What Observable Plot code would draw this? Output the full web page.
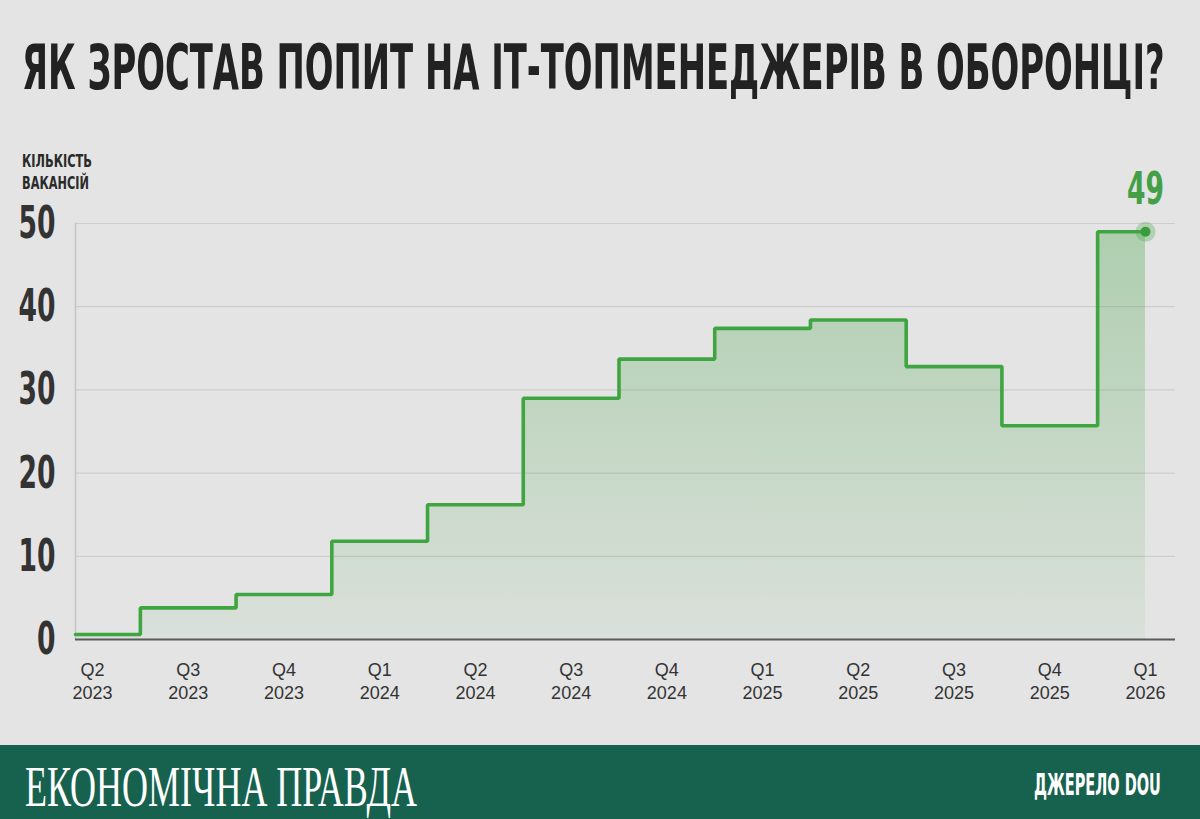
<!DOCTYPE html>
<html>
<head>
<meta charset="utf-8">
<script src="https://cdn.jsdelivr.net/npm/d3@7"></script>
<script src="https://cdn.jsdelivr.net/npm/@observablehq/plot@0.6"></script>
<style>
  html, body { margin: 0; padding: 0; background: #e4e4e4; }
  #wrap { position: relative; width: 1200px; height: 819px; overflow: hidden; background: #e4e4e4; }
  #chart { position: absolute; left: 0; top: 0; }
  #overlay { position: absolute; left: 0; top: 0; pointer-events: none; }
  .narrow { font-family: "Liberation Sans Narrow", "DejaVu Sans Condensed", "Roboto", sans-serif; }
</style>
</head>
<body>
<div id="wrap">
  <svg width="0" height="0" style="position:absolute">
    <defs>
      <linearGradient id="areaGrad" x1="0" y1="0" x2="0" y2="1">
        <stop offset="0%" stop-color="#3c9f3e" stop-opacity="0.32"/>
        <stop offset="100%" stop-color="#3c9f3e" stop-opacity="0.06"/>
      </linearGradient>
    </defs>
  </svg>
  <div id="chart"></div>
  <svg id="overlay" width="1200" height="819">
    <text class="narrow squeeze" data-w="1143" x="22" y="89" font-size="62" font-weight="bold" fill="#222">ЯК ЗРОСТАВ ПОПИТ НА ІТ-ТОПМЕНЕДЖЕРІВ В ОБОРОНЦІ?</text>
    <text class="narrow squeeze" data-w="70" x="22" y="167" font-size="17" font-weight="bold" fill="#2a2a2a">КІЛЬКІСТЬ</text>
    <text class="narrow squeeze" data-w="67" x="22" y="189" font-size="17" font-weight="bold" fill="#2a2a2a">ВАКАНСІЙ</text>
    <rect x="0" y="745" width="1200" height="74" fill="#17614f"></rect>
    <text class="squeeze" data-w="392" x="25" y="806" font-family="Liberation Serif, DejaVu Serif, serif" font-size="56" fill="#ffffff">ЕКОНОМІЧНА ПРАВДА</text>
    <text class="narrow squeeze" data-w="127" x="1034" y="795" font-size="30" font-weight="bold" fill="#ffffff">ДЖЕРЕЛО DOU</text>
  </svg>
</div>
<script>
// ---- data ----
const quarters = ["Q2", "Q3", "Q4", "Q1", "Q2", "Q3", "Q4", "Q1", "Q2", "Q3", "Q4", "Q1"];
const years = ["2023", "2023", "2023", "2024", "2024", "2024", "2024", "2025", "2025", "2025", "2025", "2026"];
const vacancies = [0.6, 3.8, 5.4, 11.8, 16.2, 29.0, 33.7, 37.4, 38.4, 32.8, 25.7, 49];
const yTicks = [0, 10, 20, 30, 40, 50];

const data = vacancies.map((v, i) => ({i, value: v}));
const last = [data[data.length - 1]];

const narrow = '"Liberation Sans Narrow", "DejaVu Sans Condensed", Roboto, sans-serif';
const marginLeft = 75;

// step curve whose first level starts at the left edge of the frame
function stepFromLeft(x0) {
  return function(context) {
    const c = d3.curveStep(context);
    let area = false, lineNo = 0, firstPoint = false, lastY = null;
    return {
      areaStart() { area = true; lineNo = 0; c.areaStart(); },
      areaEnd() { area = false; c.areaEnd(); },
      lineStart() { lineNo++; firstPoint = true; c.lineStart(); },
      lineEnd() {
        if (area && lineNo === 2 && lastY != null) c.point(x0, lastY);
        c.lineEnd();
      },
      point(x, y) {
        if (firstPoint && (!area || lineNo === 1)) c.point(x0, y);
        firstPoint = false; lastY = y;
        c.point(x, y);
      }
    };
  };
}
const curve = stepFromLeft(marginLeft);

const chart = Plot.plot({
  width: 1200,
  height: 745,
  marginLeft,
  marginRight: 25,
  marginTop: 223,
  marginBottom: 106,
  style: {background: "transparent", overflow: "visible"},
  x: {domain: [0, 11], range: [92, 1145]},
  y: {domain: [0, 50]},
  marks: [
    Plot.gridY(yTicks.filter(d => d > 0), {stroke: "#cdcdcd", strokeOpacity: 1, strokeWidth: 1.2}),
    Plot.areaY(data, {x: "i", y: "value", curve, fill: "url(#areaGrad)"}),
    Plot.frame({anchor: "left", stroke: "#c4c4c4", strokeWidth: 1.5}),
    Plot.ruleY([0], {stroke: "#5a5a5a", strokeWidth: 2}),
    Plot.lineY(data, {x: "i", y: "value", curve, stroke: "#3fa541", strokeWidth: 3.6, strokeLinejoin: "miter"}),
    Plot.dot(last, {x: "i", y: "value", r: 10, fill: "#3fa541", fillOpacity: 0.3, stroke: "none"}),
    Plot.dot(last, {x: "i", y: "value", r: 5, fill: "#3a9d3c", stroke: "none"}),
    Plot.text(last, {x: "i", y: "value", text: d => String(d.value), dy: -42, fontSize: 45,
      fontWeight: "bold", fontFamily: narrow, fill: "#43a047"}),
    Plot.axisY({ticks: yTicks, tickSize: 0, tickPadding: 20, fontSize: 45, fontWeight: "bold",
      fontFamily: narrow, fill: "#333", label: null, textAnchor: "end"}),
    Plot.axisX({ticks: d3.range(quarters.length), tickSize: 0, tickPadding: 20, fontSize: 18,
      fontFamily: '"Liberation Sans", Arial, sans-serif', fill: "#333", label: null, lineHeight: 1.28,
      tickFormat: i => quarters[i] + "\n" + years[i]})
  ]
});
document.getElementById("chart").appendChild(chart);

// horizontal squeeze to imitate the condensed display typeface
function squeezeBy(el, sx) {
  const X = +el.getAttribute("x") || 0, Y = +el.getAttribute("y") || 0;
  const T = el.getAttribute("transform") || "";
  el.setAttribute("transform", `${T} translate(${X},${Y}) scale(${sx},1) translate(${-X},${-Y})`);
}
document.querySelectorAll("#overlay text.squeeze").forEach(el => {
  const w = el.getComputedTextLength();
  if (w > 0) squeezeBy(el, Math.min(1, +el.dataset.w / w));
});
const yLabels = Array.from(chart.querySelectorAll('g[aria-label="y-axis tick label"] text'));
const ref = yLabels.find(t => t.textContent === "50");
const sxNum = ref && ref.getComputedTextLength() > 0 ? Math.min(1, 37 / ref.getComputedTextLength()) : 1;
yLabels.forEach(t => squeezeBy(t, sxNum));
const endLabel = String(last[0].value);
Array.from(chart.querySelectorAll('g[aria-label="text"] text'))
  .filter(t => t.textContent === endLabel)
  .forEach(t => squeezeBy(t, sxNum));
</script>
</body>
</html>
